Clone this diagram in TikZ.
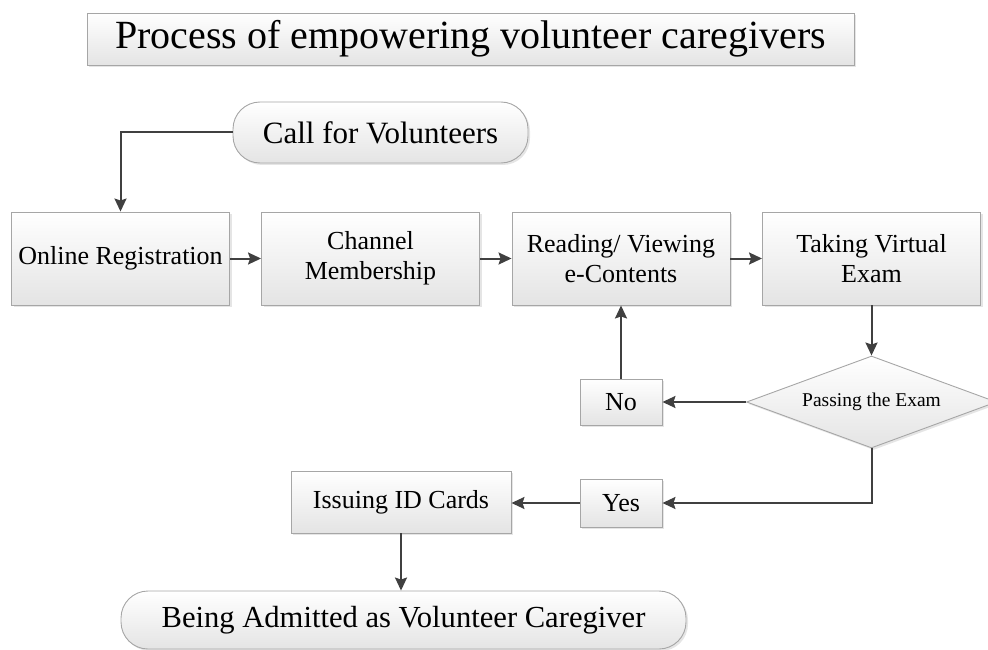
\documentclass[tikz,border=0pt]{standalone}
\usepackage{fontspec}
\setmainfont{Liberation Serif}
\usetikzlibrary{arrows.meta,shapes.geometric,shadows}
\definecolor{arrowgray}{HTML}{404040}
\definecolor{bordergray}{HTML}{A6A6A6}
\definecolor{fillbot}{HTML}{E4E4E4}
\tikzset{
  boxstyle/.style={draw=bordergray, line width=0.9pt, top color=white, bottom color=fillbot,
    inner sep=0pt, align=center, text=black,
    drop shadow={shadow xshift=2pt, shadow yshift=-2pt, opacity=0.25, fill=black!40}},
  procbox/.style={boxstyle, rectangle, minimum width=218pt, minimum height=93pt,
    font=\fontsize{26}{30}\selectfont},
  smallbox/.style={boxstyle, rectangle, minimum width=82pt,
    font=\fontsize{26}{30}\selectfont},
  termbox/.style={boxstyle, rectangle, rounded corners=27pt},
  decbox/.style={boxstyle, diamond, minimum width=250pt, minimum height=92pt, aspect=2.7,
    font=\fontsize{19.5}{22}\selectfont},
  titlebox/.style={boxstyle, rectangle, minimum width=767pt, minimum height=52pt,
    font=\fontsize{40}{46}\selectfont},
  flow/.style={draw=arrowgray, line width=2pt,
    -{Stealth[length=13pt,width=12pt,inset=2pt]}}
}
\begin{document}
\begin{tikzpicture}[x=1pt,y=-1pt]
\useasboundingbox (0,0) rectangle (988,650);
\node[titlebox] (title) at (470.5,39) {Process of empowering volunteer caregivers};
\node[termbox, minimum width=295pt, minimum height=61pt, font=\fontsize{31}{36}\selectfont] (call) at (380.5,132.5) {Call for Volunteers};
\node[procbox] (online) at (120.5,258.5) {Online Registration};
\node[procbox] (channel) at (370.5,258.5) {Channel\\Membership};
\node[procbox] (reading) at (621,258.5) {Reading/ Viewing\\e-Contents};
\node[procbox] (taking) at (871.5,258.5) {Taking Virtual\\Exam};
\node[decbox] (pass) at (871.5,402) {Passing the Exam};
\node[smallbox, minimum height=46pt] (no) at (621,402) {No};
\node[smallbox, minimum height=48pt] (yes) at (621,503) {Yes};
\node[procbox, minimum width=220pt, minimum height=62pt] (issue) at (401,502) {Issuing ID Cards};
\node[termbox, minimum width=565pt, minimum height=58pt, font=\fontsize{30.6}{36}\selectfont] (admit) at (403.5,620) {Being Admitted as Volunteer Caregiver};
\draw[flow] (call.west) -| (online.north);
\draw[flow] (online.east) -- (channel.west);
\draw[flow] (channel.east) -- (reading.west);
\draw[flow] (reading.east) -- (taking.west);
\draw[flow] (taking.south) -- (pass.north);
\draw[flow] (pass.west) -- (no.east);
\draw[flow] (no.north) -- (reading.south);
\draw[flow] (pass.south) |- (yes.east);
\draw[flow] (yes.west) -- (yes.west -| issue.east);
\draw[flow] (issue.south) -- (issue.south |- admit.north);
\end{tikzpicture}
\end{document}
